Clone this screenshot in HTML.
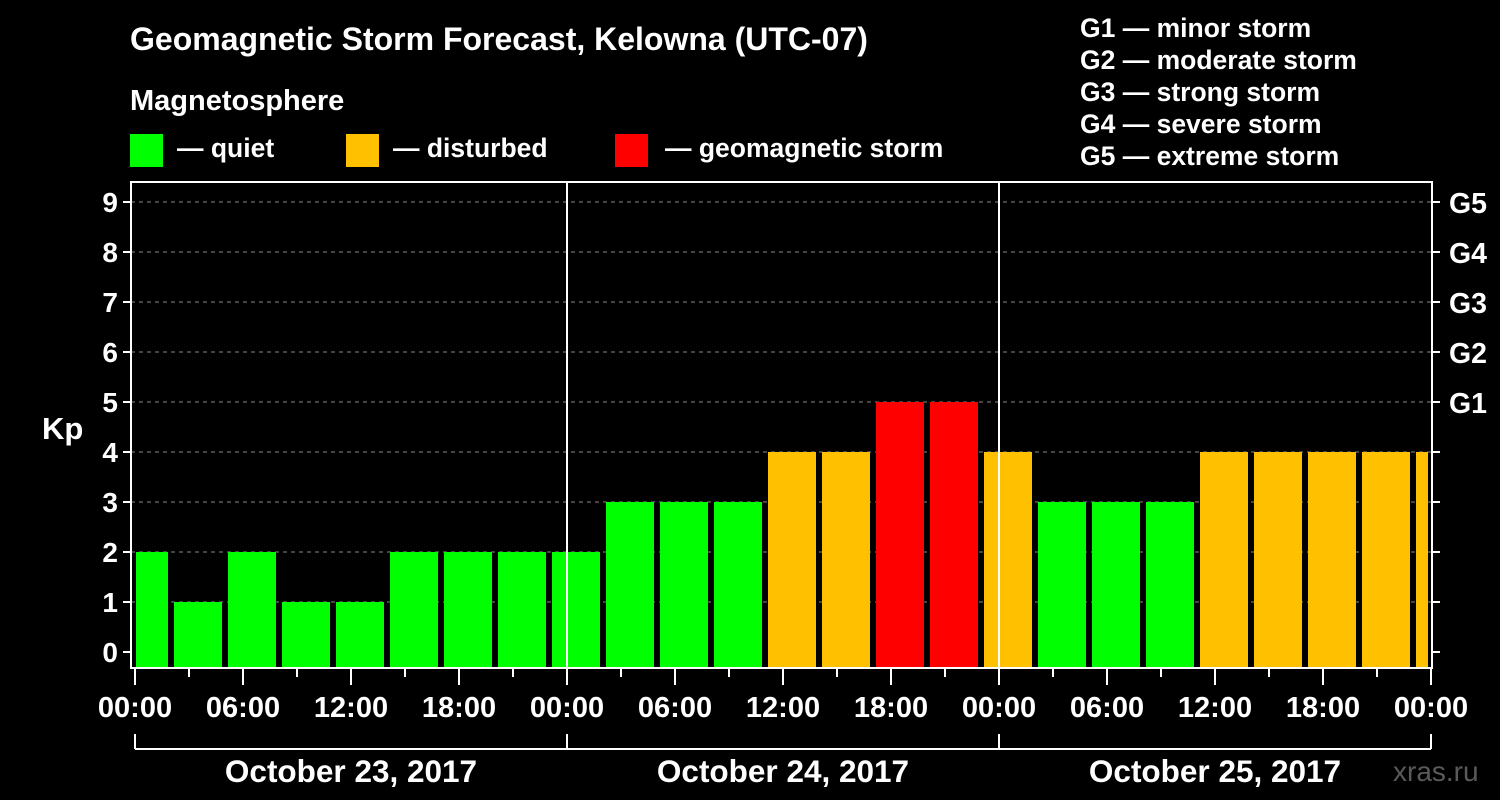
<!DOCTYPE html>
<html><head><meta charset="utf-8"><style>
body{margin:0;background:#000;width:1500px;height:800px;overflow:hidden}
svg{display:block;font-family:"Liberation Sans",sans-serif;font-weight:bold;fill:#fff}
</style></head><body>
<svg id="chart" width="1500" height="800" viewBox="0 0 1500 800">
<rect width="1500" height="800" fill="#000"/>
<text x="130" y="50" font-size="32">Geomagnetic Storm Forecast, Kelowna (UTC-07)</text>
<text x="130" y="110" font-size="29">Magnetosphere</text>
<g><rect x="130" y="134" width="33" height="33" fill="#00ff00"/><text x="177" y="157" font-size="26.5">— quiet</text></g>
<g><rect x="346" y="134" width="33" height="33" fill="#ffc000"/><text x="393" y="157" font-size="26.5">— disturbed</text></g>
<g><rect x="615" y="134" width="33" height="33" fill="#ff0000"/><text x="665" y="157" font-size="26.5">— geomagnetic storm</text></g>
<g font-size="26.5">
<text x="1080" y="37">G1 — minor storm</text>
<text x="1080" y="69">G2 — moderate storm</text>
<text x="1080" y="101">G3 — strong storm</text>
<text x="1080" y="133">G4 — severe storm</text>
<text x="1080" y="165">G5 — extreme storm</text>
</g>
<text x="42" y="439" font-size="31">Kp</text>
<text x="1393" y="781" font-size="28" style="fill:#5a5a5a;font-weight:normal">xras.ru</text>
<g id="grid"></g><g id="bars"></g><g id="axes"></g>
</svg>
<script>
const kpValues=[2,1,2,1,1,2,2,2,2,3,3,3,4,4,5,5,4,3,3,3,4,4,4,4,4];
const binStartHour=-1;
const binHours=3;
const yTicks=[0,1,2,3,4,5,6,7,8,9];
const gLabels=["G1","G2","G3","G4","G5"];
const gLevels=[5,6,7,8,9];
const xTickLabels=["00:00","06:00","12:00","18:00","00:00","06:00","12:00","18:00","00:00","06:00","12:00","18:00","00:00"];
const dateLabels=["October 23, 2017","October 24, 2017","October 25, 2017"];
const NS="http://www.w3.org/2000/svg";
const x=h=>135+h*18, y=v=>652-v*50;
const L=131,R=1432,T=182,B=668;
function mk(p,t,a){const e=document.createElementNS(NS,t);for(const k in a)e.setAttribute(k,a[k]);p.appendChild(e);return e;}
const grid=document.getElementById('grid'),bars=document.getElementById('bars'),axes=document.getElementById('axes');
yTicks.forEach(v=>{if(v<1)return;const l=mk(grid,'line',{x1:L,x2:R,y1:y(v),y2:y(v),stroke:'#888','stroke-dasharray':'4,4','stroke-width':1});

});
kpValues.forEach((v,i)=>{const h0=binStartHour+i*binHours;let x0=x(h0)+3,x1=x(h0+binHours)-3;x0=Math.max(x0,136);x1=Math.min(x1,1428);
const c=v>=5?'#ff0000':v>=4?'#ffc000':'#00ff00';
const r=mk(bars,'rect',{x:x0,y:y(v),width:x1-x0,height:B-y(v),fill:c});

});
[567,999].forEach(px=>mk(axes,'line',{x1:px,x2:px,y1:T,y2:B,stroke:'#fff','stroke-width':2}));
mk(axes,'rect',{x:L,y:T,width:R-L,height:B-T,fill:'none',stroke:'#fff','stroke-width':2});
yTicks.forEach(v=>{mk(axes,'line',{x1:L-8,x2:L,y1:y(v),y2:y(v),stroke:'#fff','stroke-width':2});
mk(axes,'line',{x1:R,x2:R+8,y1:y(v),y2:y(v),stroke:'#fff','stroke-width':2});
const t=mk(axes,'text',{x:L-13,y:y(v)+10,'font-size':28,'text-anchor':'end'});t.textContent=v;

});
gLabels.forEach((g,i)=>{const t=mk(axes,'text',{x:1449,y:y(gLevels[i])+11,'font-size':28.5});t.textContent=g;

});
for(let h=0;h<=72;h+=3){const maj=h%6==0;mk(axes,'line',{x1:x(h),x2:x(h),y1:B,y2:B+(maj?17:9),stroke:'#fff','stroke-width':2});}
xTickLabels.forEach((s,i)=>{const t=mk(axes,'text',{x:x(i*6),y:717,'font-size':29,'text-anchor':'middle'});t.textContent=s;

});
mk(axes,'line',{x1:x(0),x2:x(72),y1:749,y2:749,stroke:'#fff','stroke-width':2});
[0,24,48,72].forEach(h=>mk(axes,'line',{x1:x(h),x2:x(h),y1:734,y2:749,stroke:'#fff','stroke-width':2}));
dateLabels.forEach((s,i)=>{const t=mk(axes,'text',{x:x(i*24+12),y:782,'font-size':31.5,'text-anchor':'middle'});t.textContent=s;

});
</script>
</body></html>
